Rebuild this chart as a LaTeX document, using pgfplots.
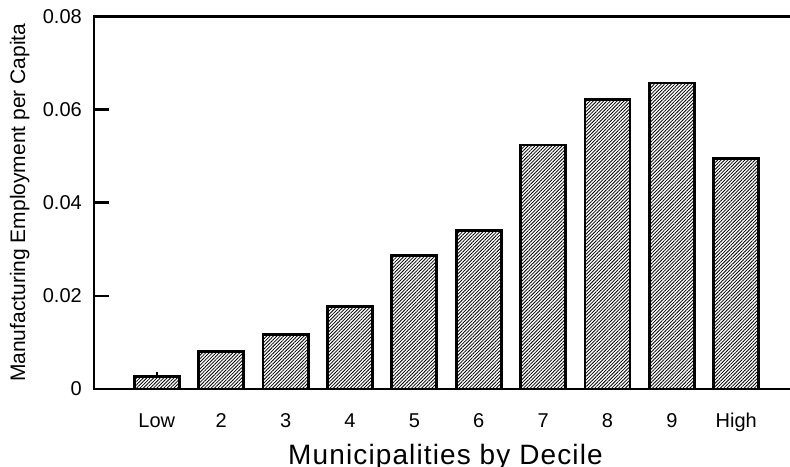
\documentclass[border=0pt]{standalone}
\usepackage{fontspec}
\setmainfont{Liberation Sans}
\usepackage{pgfplots}
\pgfplotsset{compat=1.18}
\usetikzlibrary{patterns.meta}
\begin{document}
\begin{tikzpicture}
\useasboundingbox (-94bp,-78bp) rectangle (696bp,389bp);
\begin{axis}[
  at={(0,0)}, anchor=south west,
  scale only axis, width=696bp, height=372.5bp,
  xmin=-0.976, xmax=9.836, ymin=0, ymax=0.08,
  clip=false,
  ybar,
  axis x line*=bottom, axis y line*=left,
  axis line style={line width=2.8bp, line cap=rect, black},
  ytick={0,0.02,0.04,0.06,0.08},
  scaled y ticks=false,
  /pgf/number format/assume math mode=true,
  yticklabel={\pgfmathprintnumber[fixed,precision=2]{\tick}},
  xtick={0,1,2,3,4,5,6,7,8,9},
  xticklabels={Low,2,3,4,5,6,7,8,9,High},
  tick align=inside,
  major tick length=15bp,
  ytick style={line width=2.6bp, black},
  xtick style={draw=none},
  yticklabel style={anchor=east, inner sep=0pt, xshift=-12bp, font=\fontsize{20bp}{24bp}\selectfont},
  xticklabel style={anchor=north, inner sep=0pt, text height=14bp, yshift=-24bp, font=\fontsize{20bp}{24bp}\selectfont},
  every axis y label/.style={at={(axis description cs:-0.0991,0.5)}, anchor=base, rotate=90, inner sep=0pt, font=\fontsize{21bp}{25bp}\selectfont},
  every axis x label/.style={at={(axis description cs:0.505,-0.204)}, anchor=base, inner sep=0pt, font=\fontsize{28bp}{32bp}\selectfont\addfontfeatures{LetterSpace=4}},
  ylabel={Manufacturing Employment per Capita},
  xlabel={Municipalities by Decile},
]
\addplot[ybar, bar width=0.70, draw=black, line width=2.8bp,
  pattern={Lines[angle=45,distance=2.4bp,line width=0.8bp]}, pattern color=black,
  error bars/.cd, y dir=plus, y explicit, error mark=none,
  error bar style={line width=2.2bp, line cap=butt, black}]
coordinates {
 (0,0.0027) +- (0,0.0009)
 (1,0.0081) +- (0,0)
 (2,0.0117) +- (0,0)
 (3,0.0177) +- (0,0)
 (4,0.0287) +- (0,0)
 (5,0.0341) +- (0,0)
 (6,0.0524) +- (0,0)
 (7,0.0622) +- (0,0)
 (8,0.0657) +- (0,0)
 (9,0.0495) +- (0,0)
};
\draw[line width=2.8bp, line cap=rect, black] (rel axis cs:0,1) -- (rel axis cs:1,1);
\end{axis}
\end{tikzpicture}
\end{document}
